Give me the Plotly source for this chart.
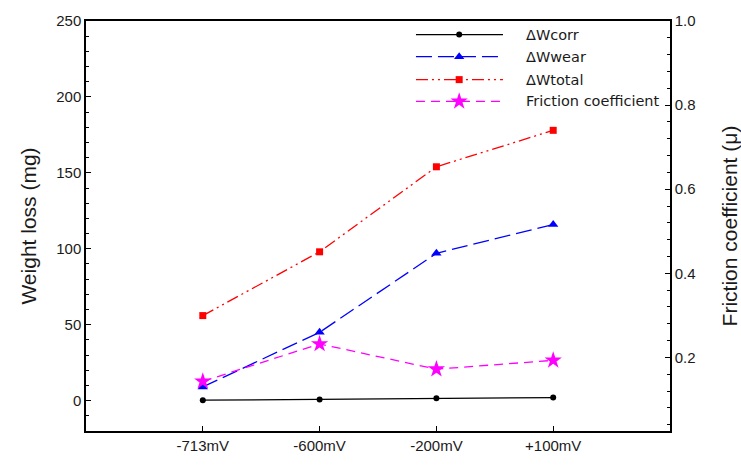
import plotly.graph_objects as go

# Polarisation potentials (x categories)
potentials = ["-713mV", "-600mV", "-200mV", "+100mV"]

# Weight loss components (mg)
dw_corr = [0.3, 0.8, 1.5, 2.0]
dw_wear = [9, 45, 97, 116]
dw_total = [56, 98, 154, 178]

# Friction coefficient (right axis)
friction = [0.143, 0.232, 0.172, 0.193]

series_names = ["\u0394Wcorr", "\u0394Wwear", "\u0394Wtotal", "Friction coefficient"]

xpos = list(range(len(potentials)))

TICK_FONT = dict(family="Liberation Sans, Arial", size=15, color="#1a1a1a")
TITLE_FONT = dict(family="Liberation Sans, Arial", size=21, color="#1a1a1a")
LEG_FONT = dict(family="DejaVu Sans, Verdana", size=14.5, color="#1a1a1a")

styles = [
    dict(color="#000000", dash="solid", symbol="circle", size=6),
    dict(color="#0000ff", dash="16px,6px", symbol="triangle-up", size=9),
    dict(color="#ff0000", dash="12px,4px,2px,4px,2px,4px", symbol="square", size=7),
    dict(color="#ff00ff", dash="9px,6px", symbol="star", size=13),
]

fig = go.Figure()

data_sets = [(dw_corr, "y"), (dw_wear, "y"), (dw_total, "y"), (friction, "y2")]
for (vals, yax), st, name in zip(data_sets, styles, series_names):
    fig.add_trace(go.Scatter(
        x=xpos, y=vals, name=name, yaxis=yax, mode="lines+markers",
        line=dict(color=st["color"], dash=st["dash"], width=1.3),
        marker=dict(symbol=st["symbol"], size=st["size"], color=st["color"], line=dict(width=0)),
        showlegend=False,
    ))

# Hand-built legend on an overlay axis spanning the plot area
leg_rows = [0.967, 0.913, 0.857, 0.804]
for row_y, st, name in zip(leg_rows, styles, series_names):
    fig.add_trace(go.Scatter(
        x=[0.565, 0.639, 0.714], y=[row_y] * 3, xaxis="x3", yaxis="y3",
        mode="lines", line=dict(color=st["color"], dash=st["dash"], width=1.3),
        showlegend=False, hoverinfo="skip",
    ))
    fig.add_trace(go.Scatter(
        x=[0.639], y=[row_y], xaxis="x3", yaxis="y3", mode="markers",
        marker=dict(symbol=st["symbol"], size=st["size"], color=st["color"], line=dict(width=0)),
        showlegend=False, hoverinfo="skip",
    ))
    fig.add_annotation(
        x=0.75, y=row_y, xref="x3", yref="y3", text=name, showarrow=False,
        xanchor="left", yanchor="middle", font=LEG_FONT,
    )

fig.update_layout(
    width=741, height=466,
    margin=dict(l=86, r=71, t=16, b=29),
    paper_bgcolor="white", plot_bgcolor="white",
    showlegend=False,
    xaxis=dict(
        range=[-1, 4], tickvals=xpos, ticktext=potentials,
        showline=True, linecolor="#000000", linewidth=1.5, mirror=True,
        ticks="inside", ticklen=5, tickcolor="#000000",
        showgrid=False, zeroline=False, tickfont=TICK_FONT,
    ),
    yaxis=dict(
        range=[-20, 250], tickvals=[0, 50, 100, 150, 200, 250],
        showline=True, linecolor="#000000", linewidth=1.5,
        ticks="inside", ticklen=5, tickcolor="#000000",
        minor=dict(ticks="inside", ticklen=3, dtick=10, tick0=0, tickcolor="#000000"),
        showgrid=False, zeroline=False, tickfont=TICK_FONT,
        title=dict(text="Weight loss (mg)", font=TITLE_FONT, standoff=14),
    ),
    yaxis2=dict(
        range=[0.025, 1.0], tickvals=[0.2, 0.4, 0.6, 0.8, 1.0],
        ticktext=["0.2", "0.4", "0.6", "0.8", "1.0"],
        overlaying="y", side="right", automargin=False,
        showline=True, linecolor="#000000", linewidth=1.5,
        ticks="inside", ticklen=5, tickcolor="#000000",
        minor=dict(ticks="inside", ticklen=3, dtick=0.04, tick0=0, tickcolor="#000000"),
        showgrid=False, zeroline=False, tickfont=TICK_FONT,
        title=dict(text="Friction coefficient (\u03bc)", font=TITLE_FONT, standoff=30),
    ),
    xaxis3=dict(overlaying="x", range=[0, 1], visible=False, fixedrange=True),
    yaxis3=dict(overlaying="y", range=[0, 1], visible=False, fixedrange=True),
)

fig.write_html("out.html")
